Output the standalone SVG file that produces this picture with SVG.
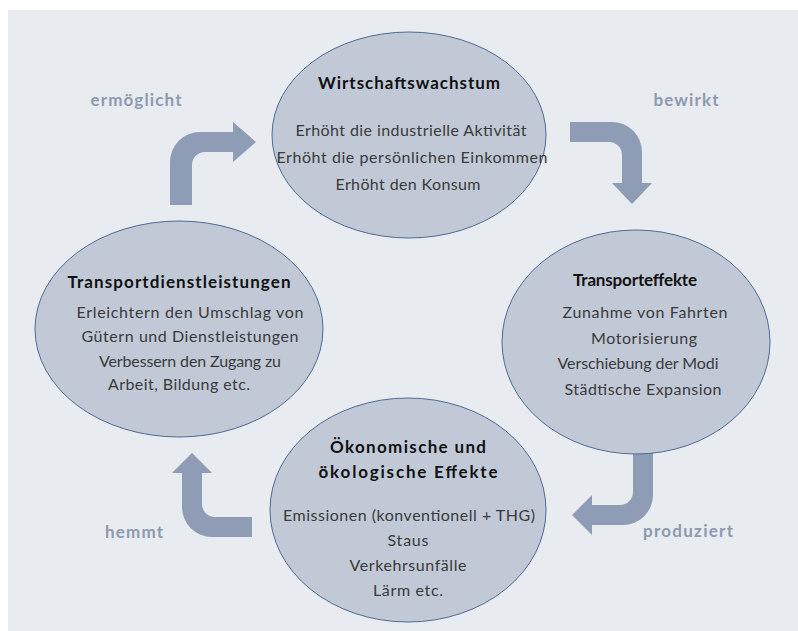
<svg xmlns="http://www.w3.org/2000/svg" width="798" height="631" viewBox="0 0 798 631">
<style>
.node ellipse{fill:#c1c9d7;stroke:#4f6a94;stroke-width:1}
.t{font-family:Lato,"Open Sans","Liberation Sans",sans-serif;font-size:17px;font-weight:bold;fill:#111;text-anchor:middle}
.b{font-family:Lato,"Open Sans","Liberation Sans",sans-serif;font-size:16px;fill:#3a3a3a;text-anchor:middle}
.lbl{font-family:Lato,"Open Sans","Liberation Sans",sans-serif;font-size:17px;font-weight:bold;fill:#8d9ab0;text-anchor:middle}
.arr{fill:#8f9cb6}
</style>
<rect x="8" y="10" width="790" height="621" fill="#e8ebf0"/>
<g id="connectors">
<path class="arr" d="M170,205 L170,162 A30,30 0 0 1 200,132 L233,132 L233,122 L256,142 L233,162 L233,152 L205,152 A13,13 0 0 0 192,165 L192,205 Z"/>
<path class="arr" d="M570,122 L612,122 A30,30 0 0 1 642,152 L642,183 L652,183 L632,204 L612,183 L622,183 L622,155 A13,13 0 0 0 609,142 L570,142 Z"/>
<path class="arr" d="M633,453 L653,453 L653,495 A30,30 0 0 1 623,525 L592,525 L592,535 L572,515 L592,495 L592,505 L620,505 A13,13 0 0 0 633,492 Z"/>
<path class="arr" d="M252,537 L212,537 A30,30 0 0 1 182,507 L182,473 L172,473 L192,453 L212,473 L202,473 L202,504 A13,13 0 0 0 215,517 L252,517 Z"/>
<text class="lbl" x="136" y="106" textLength="91">ermöglicht</text>
<text class="lbl" x="686" y="106" textLength="65">bewirkt</text>
<text class="lbl" x="134" y="538" textLength="58">hemmt</text>
<text class="lbl" x="688" y="537" textLength="90">produziert</text>
</g>
<g id="node-wirtschaft" class="node">
<ellipse cx="409" cy="135" rx="137" ry="103"/>
<text class="t" x="409" y="89" textLength="182">Wirtschaftswachstum</text>
<text class="b" x="411" y="136" textLength="231">Erhöht die industrielle Aktivität</text>
<text class="b" x="412" y="163" textLength="271">Erhöht die persönlichen Einkommen</text>
<text class="b" x="408" y="190" textLength="145">Erhöht den Konsum</text>
</g>
<g id="node-dienst" class="node">
<ellipse cx="179" cy="329" rx="144" ry="108"/>
<text class="t" x="179" y="288" textLength="223">Transportdienstleistungen</text>
<text class="b" x="190" y="318" textLength="227">Erleichtern den Umschlag von</text>
<text class="b" x="190" y="342" textLength="217">Gütern und Dienstleistungen</text>
<text class="b" x="190" y="367" textLength="182">Verbessern den Zugang zu</text>
<text class="b" x="179" y="390" textLength="142">Arbeit, Bildung etc.</text>
</g>
<g id="node-effekte" class="node">
<ellipse cx="636" cy="342" rx="134" ry="112"/>
<text class="t" x="635" y="286" textLength="124">Transporteffekte</text>
<text class="b" x="645" y="318" textLength="165">Zunahme von Fahrten</text>
<text class="b" x="644" y="344" textLength="106">Motorisierung</text>
<text class="b" x="638" y="369" textLength="161">Verschiebung der Modi</text>
<text class="b" x="643" y="395" textLength="157">Städtische Expansion</text>
</g>
<g id="node-oeko" class="node">
<ellipse cx="408" cy="510" rx="138" ry="112"/>
<text class="t" x="408" y="453" textLength="156">Ökonomische und</text>
<text class="t" x="408" y="478" textLength="179">ökologische Effekte</text>
<text class="b" x="409" y="521" textLength="252">Emissionen (konventionell + THG)</text>
<text class="b" x="408" y="546" textLength="41">Staus</text>
<text class="b" x="408" y="571" textLength="117">Verkehrsunfälle</text>
<text class="b" x="408" y="596" textLength="70">Lärm etc.</text>
</g>
</svg>
